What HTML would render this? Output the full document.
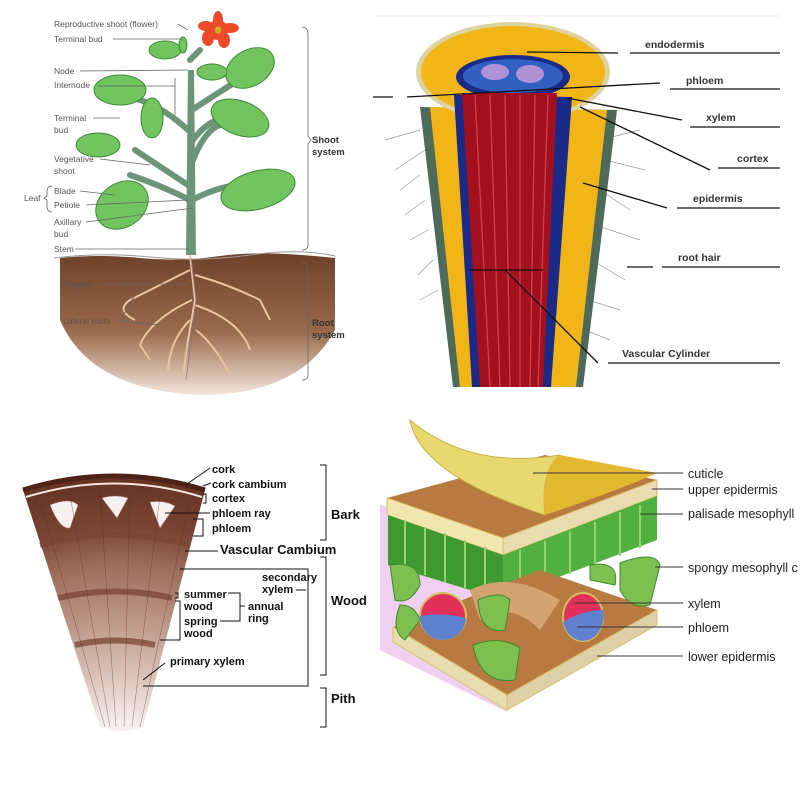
<!DOCTYPE html>
<html><head><meta charset="utf-8"><style>
html,body{margin:0;padding:0;background:#fff;width:800px;height:800px;overflow:hidden}
svg{display:block}
text{font-family:"Liberation Sans",sans-serif}
</style></head><body>
<svg width="800" height="800" viewBox="0 0 800 800" xmlns="http://www.w3.org/2000/svg">
<defs>
<linearGradient id="soil" x1="0" y1="0" x2="0" y2="1"><stop offset="0" stop-color="#6e412a"/><stop offset="0.55" stop-color="#9a6a4c"/><stop offset="1" stop-color="#f3e6dc"/></linearGradient>
<radialGradient id="wood" cx="122" cy="800" r="340" gradientUnits="userSpaceOnUse">
<stop offset="0.22" stop-color="#f6f0ee"/><stop offset="0.38" stop-color="#d9c0b6"/><stop offset="0.55" stop-color="#b99282"/><stop offset="0.7" stop-color="#9c6b58"/><stop offset="0.8" stop-color="#7a4534"/><stop offset="1" stop-color="#5e2e20"/></radialGradient>
</defs>

<!-- ===== PLANT ===== -->
<path d="M60 258 Q100 254 140 258 T220 256 T335 258 L335 330 Q300 395 200 395 Q90 390 60 320 Z" fill="url(#soil)"/>
<path d="M54 258 Q100 252 150 257 T250 255 T335 256" fill="none" stroke="#999" stroke-width="1"/>
<g stroke="#e8c59a" stroke-width="2" fill="none">
<path d="M190 255 L195 300 L188 340 L183 375"/><path d="M190 270 Q160 285 130 300 Q115 310 135 320"/><path d="M195 275 Q230 285 260 300 L270 320"/><path d="M192 300 Q150 320 140 345 L150 360"/><path d="M195 305 Q240 320 250 350"/><path d="M190 320 Q170 340 168 370"/><path d="M196 330 Q215 345 230 375"/></g>
<g stroke="#8a6a8a" stroke-width="1" fill="none" opacity="0.7"><path d="M191 258 L196 300 L186 380"/></g>
<path d="M188 70 L186 255 L196 255 L194 70 Z" fill="#6c9478"/>
<g stroke="#6c9478" stroke-width="6" fill="none" stroke-linecap="round">
<path d="M188 130 Q150 95 110 95"/><path d="M192 110 Q230 85 255 70"/><path d="M193 140 Q215 110 245 120"/><path d="M188 185 Q150 160 135 150"/><path d="M190 200 Q160 185 130 175"/><path d="M192 200 Q230 180 265 185"/><path d="M193 160 Q205 130 220 125"/><path d="M190 60 L200 50"/></g>
<g fill="#72c45e" stroke="#3d8a3a" stroke-width="1">
<ellipse cx="120" cy="90" rx="26" ry="15"/><ellipse cx="250" cy="68" rx="26" ry="18" transform="rotate(-30 250 68)"/><ellipse cx="240" cy="118" rx="30" ry="17" transform="rotate(20 240 118)"/><ellipse cx="152" cy="118" rx="11" ry="20"/><ellipse cx="98" cy="145" rx="22" ry="12"/><ellipse cx="122" cy="205" rx="28" ry="22" transform="rotate(-35 122 205)"/><ellipse cx="258" cy="190" rx="38" ry="19" transform="rotate(-15 258 190)"/><ellipse cx="165" cy="50" rx="16" ry="9"/><ellipse cx="212" cy="72" rx="15" ry="8"/><ellipse cx="183" cy="45" rx="4" ry="8"/></g>
<g fill="#ee4a2a"><circle cx="218" cy="30" r="10"/><ellipse cx="218" cy="20" rx="5" ry="9"/><ellipse cx="230" cy="28" rx="9" ry="5"/><ellipse cx="224" cy="40" rx="6" ry="8"/><ellipse cx="208" cy="38" rx="6" ry="8"/><ellipse cx="206" cy="26" rx="8" ry="5"/></g>
<circle cx="218" cy="30" r="3.5" fill="#c8b020"/>
<g font-size="8.5" fill="#555">
<text x="54" y="27">Reproductive shoot (flower)</text><text x="54" y="42">Terminal bud</text><text x="54" y="74">Node</text><text x="54" y="88">Internode</text><text x="54" y="121">Terminal</text><text x="54" y="133">bud</text><text x="54" y="162">Vegetative</text><text x="54" y="174">shoot</text><text x="24" y="201">Leaf</text><text x="54" y="194">Blade</text><text x="54" y="208">Petiole</text><text x="54" y="225">Axillary</text><text x="54" y="237">bud</text><text x="54" y="252">Stem</text><text x="63" y="287">Taproot</text><text x="63" y="324">Lateral roots</text></g>
<g stroke="#666" stroke-width="0.8" fill="none">
<path d="M178 24 L188 30"/><path d="M113 39 L182 39"/><path d="M80 71 L188 70"/><path d="M98 86 L175 86"/><path d="M175 78 L175 115"/><path d="M93 118 L120 118"/><path d="M100 159 L150 165"/><path d="M80 191 L115 195"/><path d="M86 205 L188 200"/><path d="M86 222 L193 208"/><path d="M75 249 L190 249"/><path d="M98 284 L190 284"/><path d="M120 321 L135 295"/><path d="M120 321 L160 325"/>
<path d="M52 186 Q47 186 47 192 L47 196 L44 198 L47 200 L47 206 Q47 212 52 212"/>
<path d="M302 27 Q308 27 308 35 L308 136 L311 140 L308 144 L308 245 Q308 250 302 250"/>
<path d="M302 263 Q308 263 308 270 L308 318 L311 322 L308 326 L308 375 Q308 380 302 380"/></g>
<g font-size="9.5" font-weight="bold" fill="#333"><text x="312" y="143">Shoot</text><text x="312" y="155">system</text><text x="312" y="326">Root</text><text x="312" y="338">system</text></g>

<!-- ===== ROOT SECTION ===== -->
<line x1="375" y1="16" x2="780" y2="16" stroke="#eee"/>
<g stroke="#999" stroke-width="0.7">
<path d="M420 130 L385 140 M425 150 L395 170 M420 175 L400 190 M425 200 L405 215 M428 230 L410 240 M433 260 L418 275 M438 290 L420 300 M600 140 L640 130 M605 160 L645 170 M600 190 L630 210 M595 225 L640 240 M592 260 L625 280 M588 300 L620 310 M585 330 L610 340"/></g>
<path d="M420 107 L453 387 L583 387 L617 110 Z" fill="#4e6a5a"/>
<path d="M430 107 L460 387 L576 387 L607 110 Z" fill="#f2b518"/>
<ellipse cx="513" cy="72" rx="97" ry="50" fill="#ddd2a0"/>
<ellipse cx="513" cy="72" rx="92" ry="46" fill="#f2b518"/>
<path d="M454 95 L472 387 L551 387 L572 97 Z" fill="#1a2a88"/>
<ellipse cx="513" cy="77" rx="57" ry="22" fill="#1a2a88"/>
<ellipse cx="513" cy="76" rx="50" ry="17" fill="#3060c0"/>
<path d="M462 93 L480 387 L543 387 L557 93 Z" fill="#a3101e"/>
<g stroke="#d04050" stroke-width="1.3"><path d="M475 95 L490 387 M490 95 L500 387 M505 95 L510 387 M520 95 L520 387 M535 95 L530 387 M548 95 L538 387"/></g>
<g fill="#c79ad8" opacity="0.85"><ellipse cx="495" cy="72" rx="14" ry="8"/><ellipse cx="530" cy="74" rx="14" ry="9"/></g>
<g stroke="#111" stroke-width="1.3" fill="none">
<path d="M527 52 L618 53"/><path d="M630 53 L780 53"/><path d="M373 97 L393 97"/><path d="M407 97 L660 83"/><path d="M670 89 L780 89"/><path d="M567 98 L682 120"/><path d="M690 127 L780 127"/><path d="M580 107 L710 170"/><path d="M718 168 L780 168"/><path d="M583 183 L667 208"/><path d="M677 208 L780 208"/><path d="M627 267 L653 267"/><path d="M662 267 L780 267"/><path d="M470 270 L543 270"/><path d="M505 270 L598 363"/><path d="M608 363 L780 363"/></g>
<g font-size="10.5" fill="#333" font-weight="bold"><text x="645" y="48">endodermis</text><text x="686" y="84">phloem</text><text x="706" y="121">xylem</text><text x="737" y="162">cortex</text><text x="693" y="202">epidermis</text><text x="678" y="261">root hair</text><text x="622" y="357">Vascular Cylinder</text></g>

<!-- ===== WOOD ===== -->
<path d="M23 490 Q114 462 205 490 L143 727 Q122 735 100 727 Z" fill="url(#wood)"/>
<path d="M23 490 Q114 462 205 490" fill="none" stroke="#4e2216" stroke-width="5"/>
<path d="M26 497 Q114 470 202 497" fill="none" stroke="#f4e6e0" stroke-width="2"/>
<g fill="#f6f0ee" stroke="#b08070" stroke-width="0.5"><path d="M50 505 Q70 497 78 505 L70 528 Q60 530 50 505Z"/><path d="M102 498 Q115 494 128 498 L117 518 Z"/><path d="M150 502 Q165 500 175 506 L160 528 Z"/></g>
<g fill="none" stroke="#7a4534" stroke-width="6" opacity="0.75"><path d="M40 545 Q114 525 190 545"/><path d="M58 598 Q114 585 172 598"/><path d="M75 645 Q114 636 155 645"/></g>
<g fill="none" stroke="#5a2a1a" stroke-width="0.5" opacity="0.6"><path d="M40 500 L105 727 M70 495 L110 727 M100 490 L116 727 M130 490 L124 727 M160 495 L132 727 M190 500 L140 727"/></g>
<g stroke="#111" stroke-width="1" fill="none">
<path d="M187 484 L210 468"/><path d="M203 486 L211 483"/><path d="M203 494 L206 494 L206 503 L203 503"/><path d="M165 513 L210 513"/><path d="M193 519 L203 519 L203 536 L193 536"/><path d="M185 551 L218 551"/><path d="M180 569 L308 569 L308 686 L143 686"/><path d="M296 590 L306 590"/><path d="M175 593 L178 593 L178 598 L175 598"/><path d="M175 601 L180 601 L180 640 L160 640"/><path d="M228 593 L240 593 L240 621 L220 621"/><path d="M240 606 L245 606"/><path d="M165 663 L143 680"/>
<path d="M320 465 L326 465 L326 540 L320 540"/><path d="M320 557 L326 557 L326 675 L320 675"/><path d="M320 688 L326 688 L326 727 L320 727"/></g>
<g font-size="11" font-weight="bold" fill="#111"><text x="212" y="473">cork</text><text x="212" y="488">cork cambium</text><text x="212" y="502">cortex</text><text x="212" y="517">phloem ray</text><text x="212" y="532">phloem</text><text x="184" y="598">summer</text><text x="184" y="610">wood</text><text x="184" y="625">spring</text><text x="184" y="637">wood</text><text x="248" y="610">annual</text><text x="248" y="622">ring</text><text x="262" y="581">secondary</text><text x="262" y="593">xylem</text><text x="170" y="665">primary xylem</text></g>
<g font-size="13" font-weight="bold" fill="#111"><text x="220" y="554">Vascular Cambium</text><text x="331" y="519">Bark</text><text x="331" y="605">Wood</text><text x="331" y="703">Pith</text></g>

<!-- ===== LEAF ===== -->
<path d="M380 505 L380 650 L507 712 L507 540 Z" fill="#f0d0f0"/>
<path d="M387 498 L503 538 L657 480 L545 455 Z" fill="#b87a40"/>
<path d="M387 498 L503 538 L503 555 L387 515 Z" fill="#f2e6b0" stroke="#d9c060"/>
<path d="M503 538 L657 480 L657 496 L503 555 Z" fill="#e8dcb0" stroke="#d9c060"/>
<path d="M388 515 L503 555 L503 600 L388 565 Z" fill="#3e9a30"/>
<path d="M503 555 L657 496 L657 540 L503 598 Z" fill="#52b040"/>
<g stroke="#9ad070" stroke-width="2"><path d="M405 520 L405 568 M425 527 L425 575 M445 533 L445 582 M465 540 L465 588 M485 547 L485 595 M520 550 L520 592 M545 541 L545 583 M570 531 L570 574 M595 522 L595 565 M620 512 L620 556 M640 505 L640 548"/></g>
<path d="M393 627 L507 695 L657 610 L540 570 Z" fill="#b87a40"/>
<path d="M393 627 L507 695 L507 710 L393 642 Z" fill="#e8dcb0" stroke="#d9c060"/>
<path d="M507 695 L657 610 L657 625 L507 710 Z" fill="#ddd0a8" stroke="#d9c060"/>
<path d="M470 590 Q510 570 560 600 L540 630 Q510 600 480 620 Z" fill="#d4a470"/>
<circle cx="443" cy="616" r="23" fill="#e3305a" stroke="#d0c060" stroke-width="2"/>
<path d="M420 616 Q443 612 466 618 A23 23 0 0 1 420 616 Z" fill="#6080d0"/>
<ellipse cx="583" cy="617" rx="20" ry="24" fill="#e3305a" stroke="#d0c060" stroke-width="2"/>
<path d="M563 622 Q583 610 603 610 A20 24 0 0 1 563 622 Z" fill="#6080d0"/>
<g fill="#7dc050" stroke="#3d8a30"><path d="M390 565 Q420 560 420 585 Q410 605 395 600 Z"/><path d="M478 600 Q500 590 510 600 L505 630 Q480 635 478 600Z"/><path d="M473 645 Q500 635 520 648 L515 680 Q480 685 473 645Z"/><path d="M620 563 Q655 550 660 565 L650 605 Q630 610 620 590 Z"/><path d="M400 605 Q415 605 420 620 L405 640 Q390 630 400 605Z"/><path d="M590 565 Q620 560 615 585 L590 580 Z"/></g>
<path d="M410 420 Q420 475 545 515 Q540 470 560 455 Q470 470 410 420 Z" fill="#e8d870" stroke="#c8b040"/>
<path d="M545 515 Q540 470 560 455 L657 473 Q620 490 545 515 Z" fill="#e2b830"/>
<g stroke="#333" stroke-width="1"><path d="M533 473 L683 473"/><path d="M652 489 L683 489"/><path d="M640 514 L683 514"/><path d="M655 567 L683 567"/><path d="M575 603 L683 603"/><path d="M577 627 L683 627"/><path d="M597 656 L683 656"/></g>
<g font-size="12.5" fill="#222"><text x="688" y="478">cuticle</text><text x="688" y="494">upper epidermis</text><text x="688" y="518">palisade mesophyll</text><text x="688" y="572">spongy mesophyll c</text><text x="688" y="608">xylem</text><text x="688" y="632">phloem</text><text x="688" y="661">lower epidermis</text></g>
</svg>
</body></html>
